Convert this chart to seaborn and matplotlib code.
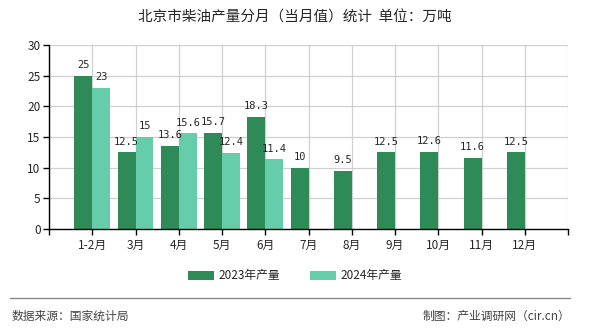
import numpy as np
import pandas as pd
import seaborn as sns
import matplotlib
matplotlib.use("Agg")
import matplotlib.pyplot as plt
from matplotlib.lines import Line2D
from matplotlib.patches import Patch

months = ["1-2月", "3月", "4月", "5月", "6月", "7月", "8月", "9月", "10月", "11月", "12月"]
v2023 = [25, 12.5, 13.6, 15.7, 18.3, 10, 9.5, 12.5, 12.6, 11.6, 12.5]
v2024 = [23, 15, 15.6, 12.4, 11.4, np.nan, np.nan, np.nan, np.nan, np.nan, np.nan]
series = ["2023年产量", "2024年产量"]
colors = ["#2E8B57", "#66CDAA"]
title = "北京市柴油产量分月（当月值）统计  单位：万吨"
source = "数据来源：国家统计局"
credit = "制图：产业调研网（cir.cn）"

df = pd.DataFrame({
    "month": months * 2,
    "value": v2023 + v2024,
    "series": [series[0]] * len(months) + [series[1]] * len(months),
})

sns.set_theme(style="white")
plt.rcParams["font.family"] = ["Noto Sans CJK SC", "DejaVu Sans"]

fig = plt.figure(figsize=(5.9, 3.3), dpi=100)
ax = fig.add_axes([49 / 590, 1 - 229 / 330, (568 - 49) / 590, (229 - 45) / 330])

sns.barplot(data=df, x="month", y="value", hue="series", palette=colors,
            width=0.83, dodge=True, ax=ax, legend=False, saturation=1,
            order=months, hue_order=series, linewidth=0, edgecolor="none")

ax.set_xlim(-1, len(months))
ax.set_ylim(0, 30)
ax.set_yticks(range(0, 31, 5))
ax.set_xticks(range(-1, len(months) + 1))
ax.set_xticklabels([""] + months + [""], fontsize=8.5)
ax.tick_params(axis="y", labelsize=8.5, length=4, width=1, color="black", direction="out", left=True, pad=2)
ax.tick_params(axis="x", length=4, width=1, color="black", direction="out", bottom=True, pad=3)
ax.set_xlabel("")
ax.set_ylabel("")
ax.grid(True, color="#d0d0d0", linewidth=0.9)
ax.set_axisbelow(True)
for s in ["top", "right"]:
    ax.spines[s].set_visible(False)
for s in ["left", "bottom"]:
    ax.spines[s].set_color("black")
    ax.spines[s].set_linewidth(1)

for cont, vals in zip(ax.containers, [v2023, v2024]):
    for bar, v in zip(cont, vals):
        if v is None or (isinstance(v, float) and np.isnan(v)):
            continue
        ax.text(bar.get_x() + bar.get_width() / 2, bar.get_height() + 0.9, f"{v:g}",
                ha="center", va="bottom", fontsize=7.5, family="DejaVu Sans Mono")

fig.text(0.5, 1 - 18 / 330, title, ha="center", va="center", fontsize=10.5)

handles = [Patch(facecolor=c, edgecolor="none") for c in colors]
fig.legend(handles, series, loc="center", bbox_to_anchor=(0.5, 1 - 276 / 330), ncol=2,
           frameon=False, fontsize=8.5, handlelength=2.2, handleheight=0.8,
           columnspacing=2.5, handletextpad=0.4)

fig.add_artist(Line2D([10 / 590, 570 / 590], [1 - 298 / 330, 1 - 298 / 330],
                      transform=fig.transFigure, color="#888888", linewidth=1))
fig.text(12 / 590, 1 - 316 / 330, source, ha="left", va="center", fontsize=8.5, color="#444444")
fig.text(570 / 590, 1 - 316 / 330, credit, ha="right", va="center", fontsize=8.5, color="#444444")

fig.savefig("out.png", dpi=100)
